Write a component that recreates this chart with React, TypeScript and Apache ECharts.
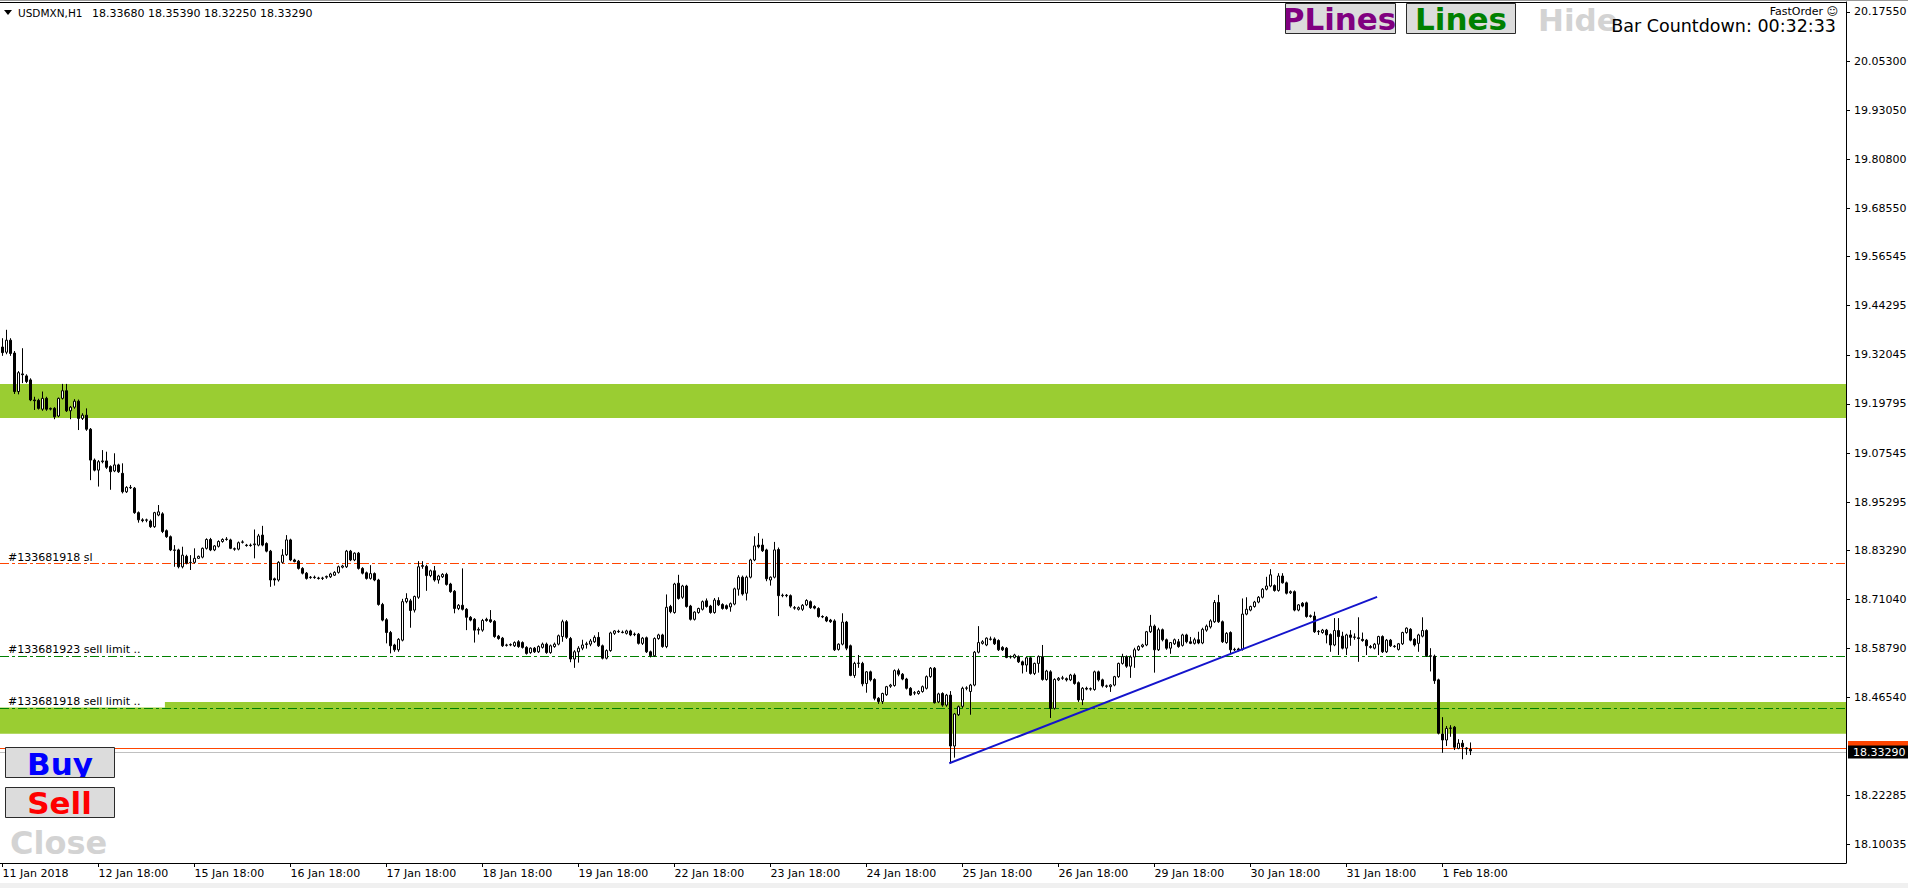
import React, { useEffect, useRef } from "react";
import * as echarts from "echarts";

// Each bar: [open, high, low, close] — USDMXN H1, one array per trading session
type Bar = [number, number, number, number];

const jan11: Bar[] = [
  [19.340, 19.362, 19.318, 19.326], [19.327, 19.383, 19.322, 19.357], [19.357, 19.362, 19.318, 19.324],
  [19.325, 19.330, 19.223, 19.229], [19.229, 19.280, 19.222, 19.276], [19.273, 19.337, 19.250, 19.271],
];
const jan12: Bar[] = [
  [19.268, 19.272, 19.250, 19.254], [19.258, 19.262, 19.205, 19.208], [19.208, 19.216, 19.183, 19.206],
  [19.207, 19.211, 19.184, 19.187], [19.185, 19.229, 19.181, 19.212], [19.212, 19.216, 19.181, 19.185],
  [19.185, 19.189, 19.182, 19.187], [19.187, 19.190, 19.160, 19.166], [19.168, 19.214, 19.165, 19.212],
  [19.212, 19.248, 19.209, 19.231], [19.231, 19.248, 19.178, 19.181], [19.181, 19.193, 19.160, 19.190],
  [19.190, 19.210, 19.186, 19.205], [19.205, 19.209, 19.133, 19.162], [19.162, 19.175, 19.158, 19.170],
  [19.170, 19.187, 19.131, 19.135], [19.135, 19.138, 19.008, 19.058], [19.058, 19.062, 19.030, 19.033],
  [19.033, 19.058, 18.992, 19.054], [19.054, 19.083, 19.050, 19.056], [19.056, 19.079, 19.036, 19.040],
  [19.042, 19.045, 18.984, 19.029], [19.031, 19.075, 19.028, 19.046], [19.046, 19.049, 19.026, 19.029],
];
const jan15: Bar[] = [
  [19.025, 19.050, 18.975, 18.979], [18.979, 18.993, 18.976, 18.990], [18.990, 18.996, 18.986, 18.989],
  [18.988, 18.991, 18.924, 18.927], [18.927, 18.930, 18.902, 18.909], [18.909, 18.913, 18.903, 18.907],
  [18.908, 18.912, 18.903, 18.909], [18.906, 18.910, 18.889, 18.892], [18.892, 18.929, 18.889, 18.927],
  [18.921, 18.946, 18.918, 18.929], [18.924, 18.928, 18.876, 18.880], [18.882, 18.885, 18.864, 18.867],
  [18.867, 18.870, 18.831, 18.834], [18.834, 18.846, 18.792, 18.833], [18.834, 18.837, 18.788, 18.792],
  [18.792, 18.842, 18.788, 18.821], [18.818, 18.822, 18.798, 18.801], [18.802, 18.821, 18.784, 18.803],
  [18.803, 18.838, 18.800, 18.813], [18.813, 18.820, 18.812, 18.818], [18.816, 18.840, 18.813, 18.838],
  [18.838, 18.863, 18.835, 18.860], [18.860, 18.864, 18.831, 18.834], [18.834, 18.846, 18.831, 18.844],
];
const jan16: Bar[] = [
  [18.843, 18.858, 18.840, 18.855], [18.855, 18.863, 18.852, 18.860], [18.860, 18.866, 18.857, 18.861],
  [18.859, 18.862, 18.836, 18.838], [18.837, 18.840, 18.832, 18.836], [18.836, 18.855, 18.833, 18.852],
  [18.853, 18.858, 18.850, 18.854], [18.846, 18.849, 18.842, 18.845], [18.845, 18.850, 18.842, 18.846],
  [18.847, 18.885, 18.813, 18.849], [18.846, 18.874, 18.843, 18.869], [18.871, 18.894, 18.843, 18.846],
  [18.850, 18.853, 18.828, 18.831], [18.831, 18.834, 18.742, 18.759], [18.762, 18.765, 18.745, 18.759],
  [18.759, 18.806, 18.755, 18.803], [18.803, 18.836, 18.800, 18.821], [18.822, 18.871, 18.819, 18.859],
  [18.859, 18.862, 18.806, 18.809], [18.809, 18.812, 18.803, 18.805], [18.806, 18.809, 18.785, 18.788],
  [18.788, 18.791, 18.773, 18.776], [18.776, 18.779, 18.760, 18.763], [18.765, 18.769, 18.762, 18.766],
];
const jan17: Bar[] = [
  [18.766, 18.770, 18.762, 18.765], [18.764, 18.767, 18.760, 18.763], [18.763, 18.767, 18.759, 18.764],
  [18.766, 18.770, 18.762, 18.768], [18.767, 18.777, 18.764, 18.774], [18.771, 18.781, 18.769, 18.778],
  [18.778, 18.795, 18.775, 18.792], [18.791, 18.797, 18.788, 18.794], [18.792, 18.834, 18.789, 18.831],
  [18.831, 18.834, 18.806, 18.809], [18.809, 18.828, 18.806, 18.826], [18.826, 18.829, 18.785, 18.788],
  [18.788, 18.791, 18.773, 18.776], [18.777, 18.780, 18.760, 18.763], [18.763, 18.796, 18.760, 18.775],
  [18.775, 18.778, 18.756, 18.759], [18.759, 18.762, 18.695, 18.698], [18.698, 18.702, 18.656, 18.659],
  [18.660, 18.664, 18.601, 18.628], [18.628, 18.632, 18.576, 18.595], [18.597, 18.600, 18.580, 18.585],
  [18.585, 18.614, 18.580, 18.611], [18.609, 18.712, 18.606, 18.705], [18.705, 18.726, 18.701, 18.713],
];
const jan18: Bar[] = [
  [18.707, 18.712, 18.640, 18.683], [18.684, 18.720, 18.678, 18.718], [18.716, 18.806, 18.712, 18.792],
  [18.793, 18.806, 18.787, 18.795], [18.793, 18.797, 18.732, 18.770], [18.770, 18.785, 18.766, 18.782],
  [18.782, 18.794, 18.755, 18.759], [18.759, 18.772, 18.750, 18.769], [18.767, 18.776, 18.764, 18.773],
  [18.773, 18.777, 18.745, 18.748], [18.749, 18.752, 18.727, 18.730], [18.731, 18.734, 18.676, 18.688],
  [18.688, 18.699, 18.684, 18.696], [18.696, 18.788, 18.683, 18.686], [18.686, 18.689, 18.634, 18.666],
  [18.666, 18.669, 18.656, 18.659], [18.661, 18.664, 18.603, 18.634], [18.634, 18.641, 18.623, 18.636],
  [18.634, 18.662, 18.630, 18.658], [18.661, 18.665, 18.655, 18.658], [18.660, 18.684, 18.652, 18.655],
  [18.656, 18.659, 18.615, 18.618], [18.619, 18.622, 18.610, 18.613], [18.614, 18.617, 18.592, 18.595],
];
const jan19: Bar[] = [
  [18.596, 18.600, 18.593, 18.597], [18.597, 18.601, 18.594, 18.598], [18.595, 18.606, 18.592, 18.603],
  [18.605, 18.609, 18.590, 18.593], [18.603, 18.606, 18.588, 18.591], [18.591, 18.594, 18.573, 18.576],
  [18.578, 18.591, 18.575, 18.589], [18.589, 18.592, 18.577, 18.580], [18.580, 18.596, 18.577, 18.593],
  [18.591, 18.603, 18.588, 18.599], [18.599, 18.603, 18.575, 18.578], [18.578, 18.598, 18.575, 18.595],
  [18.593, 18.603, 18.590, 18.599], [18.599, 18.623, 18.596, 18.620], [18.618, 18.660, 18.605, 18.655],
  [18.655, 18.659, 18.612, 18.616], [18.613, 18.617, 18.554, 18.562], [18.562, 18.584, 18.540, 18.580],
  [18.580, 18.594, 18.553, 18.589], [18.589, 18.610, 18.584, 18.597], [18.598, 18.605, 18.588, 18.600],
  [18.599, 18.612, 18.594, 18.607], [18.605, 18.621, 18.602, 18.616], [18.616, 18.629, 18.592, 18.595],
];
const jan22: Bar[] = [
  [18.595, 18.598, 18.561, 18.564], [18.564, 18.586, 18.561, 18.583], [18.583, 18.630, 18.580, 18.627],
  [18.626, 18.634, 18.622, 18.632], [18.631, 18.635, 18.627, 18.630], [18.629, 18.633, 18.626, 18.628],
  [18.626, 18.635, 18.623, 18.632], [18.632, 18.635, 18.619, 18.622], [18.623, 18.628, 18.619, 18.624],
  [18.624, 18.627, 18.598, 18.601], [18.601, 18.617, 18.597, 18.614], [18.615, 18.618, 18.577, 18.580],
  [18.580, 18.583, 18.566, 18.570], [18.570, 18.616, 18.567, 18.613], [18.613, 18.625, 18.610, 18.622],
  [18.622, 18.625, 18.590, 18.593], [18.593, 18.723, 18.589, 18.691], [18.693, 18.697, 18.676, 18.680],
  [18.678, 18.752, 18.675, 18.749], [18.751, 18.772, 18.710, 18.713], [18.716, 18.747, 18.712, 18.744],
  [18.744, 18.747, 18.690, 18.693], [18.694, 18.697, 18.658, 18.661], [18.661, 18.681, 18.658, 18.679],
];
const jan23: Bar[] = [
  [18.678, 18.690, 18.675, 18.688], [18.686, 18.708, 18.683, 18.705], [18.707, 18.713, 18.690, 18.693],
  [18.694, 18.697, 18.675, 18.678], [18.678, 18.714, 18.675, 18.709], [18.708, 18.716, 18.694, 18.697],
  [18.698, 18.701, 18.685, 18.688], [18.695, 18.698, 18.685, 18.688], [18.692, 18.703, 18.680, 18.700],
  [18.699, 18.740, 18.696, 18.737], [18.736, 18.771, 18.720, 18.766], [18.766, 18.770, 18.720, 18.724],
  [18.726, 18.770, 18.708, 18.766], [18.766, 18.812, 18.763, 18.809], [18.809, 18.868, 18.806, 18.844],
  [18.846, 18.876, 18.838, 18.842], [18.846, 18.862, 18.829, 18.832], [18.834, 18.837, 18.756, 18.762],
  [18.759, 18.768, 18.745, 18.766], [18.766, 18.854, 18.763, 18.834], [18.835, 18.840, 18.669, 18.720],
  [18.720, 18.725, 18.716, 18.721], [18.721, 18.724, 18.716, 18.720], [18.720, 18.723, 18.690, 18.694],
];
const jan24: Bar[] = [
  [18.690, 18.694, 18.685, 18.689], [18.686, 18.693, 18.683, 18.690], [18.686, 18.699, 18.682, 18.696],
  [18.697, 18.711, 18.694, 18.708], [18.705, 18.708, 18.687, 18.690], [18.693, 18.696, 18.686, 18.689],
  [18.688, 18.691, 18.665, 18.668], [18.668, 18.671, 18.664, 18.667], [18.666, 18.669, 18.654, 18.657],
  [18.659, 18.662, 18.652, 18.655], [18.657, 18.661, 18.582, 18.585], [18.586, 18.601, 18.583, 18.599],
  [18.599, 18.676, 18.596, 18.654], [18.654, 18.657, 18.584, 18.589], [18.595, 18.598, 18.519, 18.521],
  [18.521, 18.555, 18.515, 18.551], [18.551, 18.572, 18.540, 18.552], [18.551, 18.555, 18.494, 18.500],
  [18.501, 18.532, 18.478, 18.530], [18.530, 18.533, 18.506, 18.510], [18.511, 18.514, 18.459, 18.464],
  [18.464, 18.467, 18.450, 18.456], [18.456, 18.478, 18.450, 18.476], [18.473, 18.495, 18.470, 18.493],
];
const jan25: Bar[] = [
  [18.494, 18.500, 18.490, 18.497], [18.496, 18.536, 18.493, 18.533], [18.533, 18.538, 18.519, 18.524],
  [18.524, 18.527, 18.509, 18.512], [18.512, 18.515, 18.486, 18.489], [18.489, 18.492, 18.470, 18.472],
  [18.477, 18.482, 18.472, 18.478], [18.476, 18.484, 18.473, 18.481], [18.481, 18.496, 18.478, 18.493],
  [18.489, 18.521, 18.486, 18.518], [18.518, 18.542, 18.515, 18.539], [18.539, 18.542, 18.451, 18.453],
  [18.455, 18.478, 18.452, 18.475], [18.476, 18.479, 18.443, 18.447], [18.447, 18.475, 18.443, 18.472],
  [18.472, 18.482, 18.302, 18.345], [18.345, 18.427, 18.316, 18.425], [18.423, 18.446, 18.420, 18.443],
  [18.444, 18.493, 18.440, 18.489], [18.489, 18.494, 18.484, 18.490], [18.481, 18.500, 18.423, 18.497],
  [18.497, 18.582, 18.494, 18.579], [18.579, 18.644, 18.576, 18.603], [18.601, 18.609, 18.598, 18.605],
];
const jan26: Bar[] = [
  [18.597, 18.616, 18.594, 18.614], [18.611, 18.618, 18.608, 18.612], [18.612, 18.616, 18.597, 18.600],
  [18.608, 18.611, 18.582, 18.585], [18.591, 18.594, 18.582, 18.585], [18.589, 18.592, 18.564, 18.566],
  [18.567, 18.571, 18.563, 18.568], [18.566, 18.575, 18.563, 18.572], [18.568, 18.571, 18.552, 18.555],
  [18.555, 18.558, 18.526, 18.547], [18.547, 18.567, 18.530, 18.565], [18.565, 18.568, 18.523, 18.526],
  [18.526, 18.553, 18.522, 18.551], [18.551, 18.571, 18.528, 18.568], [18.568, 18.597, 18.508, 18.511],
  [18.511, 18.535, 18.508, 18.532], [18.530, 18.534, 18.415, 18.439], [18.439, 18.514, 18.436, 18.511],
  [18.510, 18.517, 18.507, 18.514], [18.514, 18.520, 18.510, 18.515], [18.513, 18.516, 18.506, 18.510],
  [18.510, 18.525, 18.507, 18.522], [18.522, 18.526, 18.498, 18.501], [18.503, 18.506, 18.455, 18.460],
];
const jan29: Bar[] = [
  [18.460, 18.492, 18.447, 18.489], [18.489, 18.493, 18.484, 18.487], [18.487, 18.491, 18.483, 18.488],
  [18.486, 18.533, 18.483, 18.530], [18.530, 18.533, 18.506, 18.510], [18.510, 18.513, 18.491, 18.495],
  [18.495, 18.498, 18.490, 18.494], [18.493, 18.499, 18.480, 18.497], [18.497, 18.520, 18.494, 18.518],
  [18.518, 18.553, 18.515, 18.551], [18.551, 18.575, 18.548, 18.568], [18.568, 18.571, 18.540, 18.544],
  [18.544, 18.571, 18.515, 18.567], [18.567, 18.590, 18.540, 18.585], [18.585, 18.596, 18.582, 18.593],
  [18.593, 18.600, 18.590, 18.597], [18.597, 18.632, 18.594, 18.630], [18.630, 18.672, 18.627, 18.644],
  [18.644, 18.648, 18.528, 18.585], [18.585, 18.640, 18.582, 18.635], [18.635, 18.638, 18.606, 18.610],
  [18.610, 18.613, 18.585, 18.589], [18.589, 18.604, 18.575, 18.603], [18.600, 18.613, 18.597, 18.610],
];
const jan30: Bar[] = [
  [18.605, 18.612, 18.590, 18.593], [18.596, 18.625, 18.593, 18.622], [18.622, 18.625, 18.601, 18.605],
  [18.605, 18.617, 18.599, 18.601], [18.601, 18.615, 18.598, 18.610], [18.610, 18.630, 18.599, 18.602],
  [18.602, 18.640, 18.599, 18.636], [18.634, 18.648, 18.630, 18.644], [18.642, 18.661, 18.638, 18.657],
  [18.655, 18.709, 18.652, 18.703], [18.703, 18.722, 18.652, 18.655], [18.655, 18.658, 18.602, 18.605],
  [18.603, 18.629, 18.600, 18.626], [18.628, 18.631, 18.576, 18.585], [18.585, 18.590, 18.582, 18.586],
  [18.587, 18.590, 18.581, 18.584], [18.586, 18.713, 18.583, 18.674], [18.674, 18.716, 18.671, 18.686],
  [18.684, 18.695, 18.681, 18.693], [18.693, 18.707, 18.690, 18.704], [18.704, 18.719, 18.701, 18.716],
  [18.716, 18.739, 18.713, 18.736], [18.736, 18.767, 18.733, 18.744], [18.744, 18.786, 18.741, 18.772],
];
const jan31: Bar[] = [
  [18.745, 18.748, 18.730, 18.733], [18.733, 18.776, 18.730, 18.769], [18.769, 18.776, 18.750, 18.752],
  [18.752, 18.755, 18.723, 18.726], [18.727, 18.733, 18.724, 18.730], [18.730, 18.733, 18.681, 18.684],
  [18.684, 18.699, 18.681, 18.697], [18.701, 18.704, 18.691, 18.694], [18.702, 18.705, 18.665, 18.668],
  [18.668, 18.673, 18.665, 18.670], [18.669, 18.680, 18.627, 18.630], [18.630, 18.634, 18.622, 18.631],
  [18.628, 18.637, 18.625, 18.634], [18.634, 18.637, 18.601, 18.622], [18.623, 18.626, 18.580, 18.597],
  [18.597, 18.664, 18.594, 18.633], [18.633, 18.664, 18.572, 18.618], [18.619, 18.630, 18.586, 18.589],
  [18.589, 18.625, 18.572, 18.622], [18.622, 18.634, 18.595, 18.616], [18.616, 18.626, 18.610, 18.617],
  [18.615, 18.666, 18.555, 18.613], [18.611, 18.628, 18.605, 18.608], [18.609, 18.612, 18.572, 18.595],
];
const feb01: Bar[] = [
  [18.593, 18.597, 18.588, 18.591], [18.589, 18.602, 18.586, 18.599], [18.599, 18.620, 18.572, 18.618],
  [18.618, 18.621, 18.577, 18.580], [18.580, 18.612, 18.577, 18.609], [18.609, 18.612, 18.592, 18.595],
  [18.594, 18.597, 18.590, 18.593], [18.586, 18.602, 18.583, 18.600], [18.600, 18.630, 18.597, 18.628],
  [18.628, 18.641, 18.625, 18.639], [18.636, 18.639, 18.606, 18.609], [18.611, 18.614, 18.593, 18.597],
  [18.601, 18.625, 18.580, 18.622], [18.619, 18.666, 18.616, 18.633], [18.633, 18.636, 18.567, 18.570],
  [18.570, 18.589, 18.531, 18.569], [18.569, 18.573, 18.500, 18.508], [18.510, 18.513, 18.374, 18.377],
  [18.375, 18.417, 18.328, 18.360], [18.360, 18.395, 18.345, 18.389], [18.389, 18.397, 18.368, 18.390],
  [18.392, 18.395, 18.335, 18.342], [18.339, 18.362, 18.337, 18.352], [18.352, 18.360, 18.312, 18.343],
];
const feb02: Bar[] = [
  [18.340, 18.342, 18.323, 18.338], [18.3368, 18.3539, 18.3225, 18.3329],
];

const sessions: Bar[][] = [
  jan11, jan12, jan15, jan16, jan17, jan18, jan19, jan22, jan23, jan24, jan25, jan26, jan29, jan30, jan31, feb01, feb02,
];

const xTickBars = [0, 24, 48, 72, 96, 120, 144, 168, 192, 216, 240, 264, 288, 312, 336, 360];
const xTickLabels = [
  "11 Jan 2018", "12 Jan 18:00", "15 Jan 18:00", "16 Jan 18:00", "17 Jan 18:00", "18 Jan 18:00",
  "19 Jan 18:00", "22 Jan 18:00", "23 Jan 18:00", "24 Jan 18:00", "25 Jan 18:00", "26 Jan 18:00",
  "29 Jan 18:00", "30 Jan 18:00", "31 Jan 18:00", "1 Feb 18:00",
];
const yTickValues = [
  20.1755, 20.053, 19.9305, 19.808, 19.6855, 19.56545, 19.44295, 19.32045, 19.19795, 19.07545,
  18.95295, 18.8329, 18.7104, 18.5879, 18.4654, 18.22285, 18.10035,
];

const supplyZone = [19.163, 19.2478];
const demandZone = [18.3758, 18.4548];
const stopLoss = 18.8002;
const sellLimitA = 18.5683;
const sellLimitB = 18.4386;
const askPrice = 18.3438;
const bidPrice = 18.3329;
const trendLine = [[236.7, 18.302], [343.65, 18.717]];
const labelBoxEnd = 40.6;
const labelBoxBottom = 18.4411;

const X_MIN = -0.625;
const X_MAX = 460.875;
const Y_MIN = 18.0533;
const Y_MAX = 20.2004;

const FONT = '"DejaVu Sans", Verdana, sans-serif';

export default function App() {
  const ref = useRef<HTMLDivElement>(null);

  useEffect(() => {
    document.body.style.margin = "0";
    document.body.style.overflow = "hidden";
    if (!ref.current) return;
    const chart = echarts.init(ref.current, null, { renderer: "svg" });

    const candles = sessions.flat().map((b, i) => [i, b[0], b[3], b[2], b[1]]);

    const orderLabel = (text: string) => ({
      show: true,
      position: "insideStartTop",
      formatter: text,
      distance: [8, 1],
      color: "#000",
      fontSize: 11,
      fontFamily: FONT,
    });
    const dashDot = [9, 3, 3, 3];
    const btnFill = "#dcdcdc";
    const btnStroke = "#2a2a2a";

    const option: any = {
      animation: false,
      backgroundColor: "#ffffff",
      grid: { left: 0, right: 62, top: 2, bottom: 25, containLabel: false, outerBoundsMode: "none" },
      xAxis: {
        type: "value",
        min: X_MIN,
        max: X_MAX,
        axisLine: { show: true, onZero: false, lineStyle: { color: "#000", width: 1 } },
        axisTick: { show: true, customValues: xTickBars, length: 4, lineStyle: { color: "#000", width: 1 } },
        axisLabel: {
          show: true,
          customValues: xTickBars,
          formatter: (v: number) => {
            const idx = xTickBars.indexOf(Math.round(v));
            return idx >= 0 ? xTickLabels[idx] : "";
          },
          align: "left",
          margin: 5,
          color: "#000",
          fontSize: 11,
          fontFamily: FONT,
        },
        splitLine: { show: false },
      },
      yAxis: {
        type: "value",
        position: "right",
        min: Y_MIN,
        max: Y_MAX,
        axisLine: { show: true, onZero: false, lineStyle: { color: "#000", width: 1 } },
        axisTick: { show: true, customValues: yTickValues, length: 4, lineStyle: { color: "#000", width: 1 } },
        axisLabel: {
          show: true,
          customValues: yTickValues,
          formatter: (v: number) => v.toFixed(5),
          margin: 8,
          color: "#000",
          fontSize: 11,
          fontFamily: FONT,
        },
        splitLine: { show: false },
      },
      series: [
        {
          name: "zones",
          type: "line",
          data: [],
          z: 1,
          silent: true,
          markArea: {
            silent: true,
            emphasis: { disabled: true },
            itemStyle: { color: "#9ACD32", opacity: 1 },
            label: { show: false },
            data: [
              [{ yAxis: supplyZone[1] }, { yAxis: supplyZone[0] }],
              [{ yAxis: demandZone[1] }, { yAxis: demandZone[0] }],
              [
                { coord: [X_MIN, demandZone[1]], itemStyle: { color: "#ffffff" } },
                { coord: [labelBoxEnd, labelBoxBottom] },
              ],
            ],
          },
        },
        {
          name: "levels",
          type: "line",
          data: [],
          z: 3,
          clip: false,
          silent: true,
          markLine: {
            silent: true,
            symbol: ["none", "none"],
            emphasis: { disabled: true },
            data: [
              { yAxis: stopLoss, lineStyle: { color: "#FF4500", width: 1, type: dashDot }, label: orderLabel("#133681918 sl") },
              { yAxis: sellLimitA, lineStyle: { color: "#008000", width: 1, type: dashDot }, label: orderLabel("#133681923 sell limit ..") },
              { yAxis: sellLimitB, lineStyle: { color: "#008000", width: 1, type: dashDot }, label: orderLabel("#133681918 sell limit ..") },
              {
                yAxis: askPrice,
                lineStyle: { color: "#FF4500", width: 1, type: "solid" },
                label: {
                  show: true, position: "end", formatter: "{box|}", distance: 2,
                  backgroundColor: "#FF4500", padding: [1, 5, 1, 5],
                  rich: { box: { width: 50, height: 12 } },
                },
              },
              {
                yAxis: bidPrice,
                lineStyle: { color: "#C0C0C0", width: 1, type: "solid" },
                label: {
                  show: true, position: "end", formatter: "18.33290", distance: 2, color: "#fff",
                  backgroundColor: "#000", padding: [1, 8, 1, 5], fontSize: 11, fontFamily: FONT,
                },
              },
            ],
          },
        },
        {
          name: "USDMXN,H1",
          type: "candlestick",
          data: candles,
          z: 5,
          silent: true,
          barWidth: 2,
          emphasis: { disabled: true },
          itemStyle: {
            color: "#ffffff",
            color0: "#000000",
            borderColor: "#000000",
            borderColor0: "#000000",
            borderColorDoji: "#000000",
            borderWidth: 1,
          },
        },
        {
          name: "trend",
          type: "line",
          data: trendLine,
          z: 6,
          silent: true,
          symbol: "none",
          showSymbol: false,
          lineStyle: { color: "#1414CC", width: 2 },
        },
      ],
      graphic: {
        elements: [
          { type: "line", silent: true, z: 100, shape: { x1: 0, y1: 0.5, x2: 1908, y2: 0.5 }, style: { stroke: "#9a9a9a", lineWidth: 1 } },
          { type: "line", silent: true, z: 100, shape: { x1: 0, y1: 2.5, x2: 1846, y2: 2.5 }, style: { stroke: "#000", lineWidth: 1 } },
          { type: "rect", silent: true, z: 100, shape: { x: 0, y: 883, width: 1908, height: 5 }, style: { fill: "#f0f0f0" } },
          // header
          { type: "polygon", silent: true, z: 100, shape: { points: [[4, 10], [12, 10], [8, 15]] }, style: { fill: "#000" } },
          { type: "text", silent: true, z: 100, x: 18, y: 13, style: { text: "USDMXN,H1", font: `10.5px ${FONT}`, fill: "#000", textAlign: "left", textVerticalAlign: "middle" } },
          { type: "text", silent: true, z: 100, x: 92, y: 13, style: { text: "18.33680 18.35390 18.32250 18.33290", font: `11px ${FONT}`, fill: "#000", textAlign: "left", textVerticalAlign: "middle" } },
          // PLines button
          { type: "rect", silent: true, z: 100, shape: { x: 1285.5, y: 3.5, width: 110, height: 30 }, style: { fill: btnFill } },
          { type: "text", silent: true, z: 101, x: 1339, y: 19, style: { text: "PLines", font: `bold 31px ${FONT}`, fill: "#800080", textAlign: "center", textVerticalAlign: "middle" } },
          { type: "rect", silent: true, z: 102, shape: { x: 1266, y: 3, width: 19.5, height: 31 }, style: { fill: "#ffffff" } },
          { type: "rect", silent: true, z: 103, shape: { x: 1285.5, y: 3.5, width: 110, height: 30 }, style: { fill: "none", stroke: btnStroke, lineWidth: 1 } },
          // Lines button
          { type: "rect", silent: true, z: 100, shape: { x: 1406.5, y: 3.5, width: 109, height: 30 }, style: { fill: btnFill } },
          { type: "text", silent: true, z: 101, x: 1461, y: 19, style: { text: "Lines", font: `bold 31px ${FONT}`, fill: "#008000", textAlign: "center", textVerticalAlign: "middle" } },
          { type: "rect", silent: true, z: 103, shape: { x: 1406.5, y: 3.5, width: 109, height: 30 }, style: { fill: "none", stroke: btnStroke, lineWidth: 1 } },
          // Hide + countdown
          { type: "text", silent: true, z: 101, x: 1538, y: 20, style: { text: "Hide", font: `bold 31px ${FONT}`, fill: "#D3D3D3", textAlign: "left", textVerticalAlign: "middle" } },
          { type: "text", silent: true, z: 104, x: 1836, y: 26, style: { text: "Bar Countdown: 00:32:33", font: `17.5px ${FONT}`, fill: "#000", textAlign: "right", textVerticalAlign: "middle" } },
          { type: "text", silent: true, z: 104, x: 1838, y: 11, style: { text: "FastOrder ☺", font: `11px ${FONT}`, fill: "#000", textAlign: "right", textVerticalAlign: "middle" } },
          // Buy button
          { type: "rect", silent: true, z: 100, shape: { x: 5.5, y: 747.5, width: 109, height: 30 }, style: { fill: btnFill } },
          { type: "text", silent: true, z: 101, x: 60, y: 764, style: { text: "Buy", font: `bold 31px ${FONT}`, fill: "#0000FF", textAlign: "center", textVerticalAlign: "middle" } },
          { type: "rect", silent: true, z: 102, shape: { x: 0, y: 778, width: 130, height: 9 }, style: { fill: "#ffffff" } },
          { type: "rect", silent: true, z: 103, shape: { x: 5.5, y: 747.5, width: 109, height: 30 }, style: { fill: "none", stroke: btnStroke, lineWidth: 1 } },
          // Sell button
          { type: "rect", silent: true, z: 100, shape: { x: 5.5, y: 787.5, width: 109, height: 30 }, style: { fill: btnFill } },
          { type: "text", silent: true, z: 101, x: 59.5, y: 803, style: { text: "Sell", font: `bold 31px ${FONT}`, fill: "#FF0000", textAlign: "center", textVerticalAlign: "middle" } },
          { type: "rect", silent: true, z: 103, shape: { x: 5.5, y: 787.5, width: 109, height: 30 }, style: { fill: "none", stroke: btnStroke, lineWidth: 1 } },
          // Close
          { type: "text", silent: true, z: 101, x: 10, y: 843, style: { text: "Close", font: `bold 32px ${FONT}`, fill: "#D3D3D3", textAlign: "left", textVerticalAlign: "middle" } },
        ],
      },
    };

    chart.setOption(option);
    return () => {
      chart.dispose();
    };
  }, []);

  return <div ref={ref} style={{ width: 1908, height: 888 }} />;
}
